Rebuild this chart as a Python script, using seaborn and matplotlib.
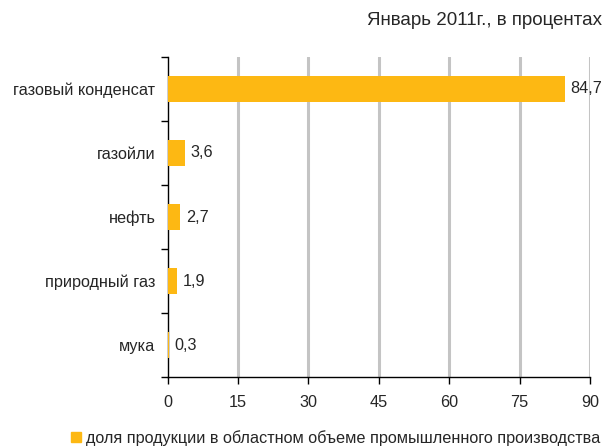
import pandas as pd
import numpy as np
import seaborn as sns
import matplotlib.pyplot as plt
from matplotlib.lines import Line2D
from matplotlib.ticker import FixedLocator

categories = ['газовый конденсат', 'газойли', 'нефть', 'природный газ', 'мука']
values = [84.7, 3.6, 2.7, 1.9, 0.3]
xticks = [0, 15, 30, 45, 60, 75, 90]
title = 'Январь 2011г., в процентах'
legend_label = 'доля продукции в областном объеме промышленного производства'

sns.set_style('white')
plt.rcParams['font.family'] = ['Liberation Sans', 'DejaVu Sans']
fs = 11.7
plt.rcParams['font.size'] = fs

df = pd.DataFrame({'cat': categories, 'val': values})
color = '#FDB813'

fig = plt.figure(figsize=(6.1, 4.48), dpi=100)
ax = fig.add_axes([0.275, 0.158, 0.692, 0.715])
sns.barplot(data=df, y='cat', x='val', orient='h', color=color, width=0.4,
            saturation=1, linewidth=0, ax=ax, zorder=3)

ax.set_xlim(0, 90)
ax.set_ylim(4.5, -0.5)
ax.set_xticks(xticks)
ax.set_xticklabels([str(t) for t in xticks], fontsize=fs)
ax.set_xlabel('')
ax.set_ylabel('')
ax.tick_params(axis='y', which='major', length=0, labelsize=fs, pad=9)
ax.yaxis.set_minor_locator(FixedLocator(np.arange(-0.5, 5, 1)))
ax.tick_params(axis='y', which='minor', left=True, length=5, color='black', width=1, direction='out')
ax.tick_params(axis='x', bottom=True, length=5, color='black', width=1, direction='out', pad=8)

for t in xticks[1:]:
    ax.axvline(t, color='#c4c4c4', lw=2.2, zorder=0)

for s in ['top', 'right']:
    ax.spines[s].set_visible(False)
for s in ['left', 'bottom']:
    ax.spines[s].set_color('black')
    ax.spines[s].set_linewidth(1)
    ax.spines[s].set_zorder(2)

for i, v in enumerate(values):
    ax.text(v + 1.2, i, f'{v:.1f}'.replace('.', ','), va='center', ha='left', fontsize=fs, zorder=4)

fig.text(0.987, 0.955, title, ha='right', va='center', fontsize=13.5)

handle = Line2D([], [], marker='s', color=color, linestyle='none', markersize=7)
fig.legend([handle], [legend_label], loc='center', bbox_to_anchor=(0.548, 0.022),
           frameon=False, fontsize=fs, handletextpad=0.1, handlelength=1)

fig.savefig('out.png', dpi=100)
